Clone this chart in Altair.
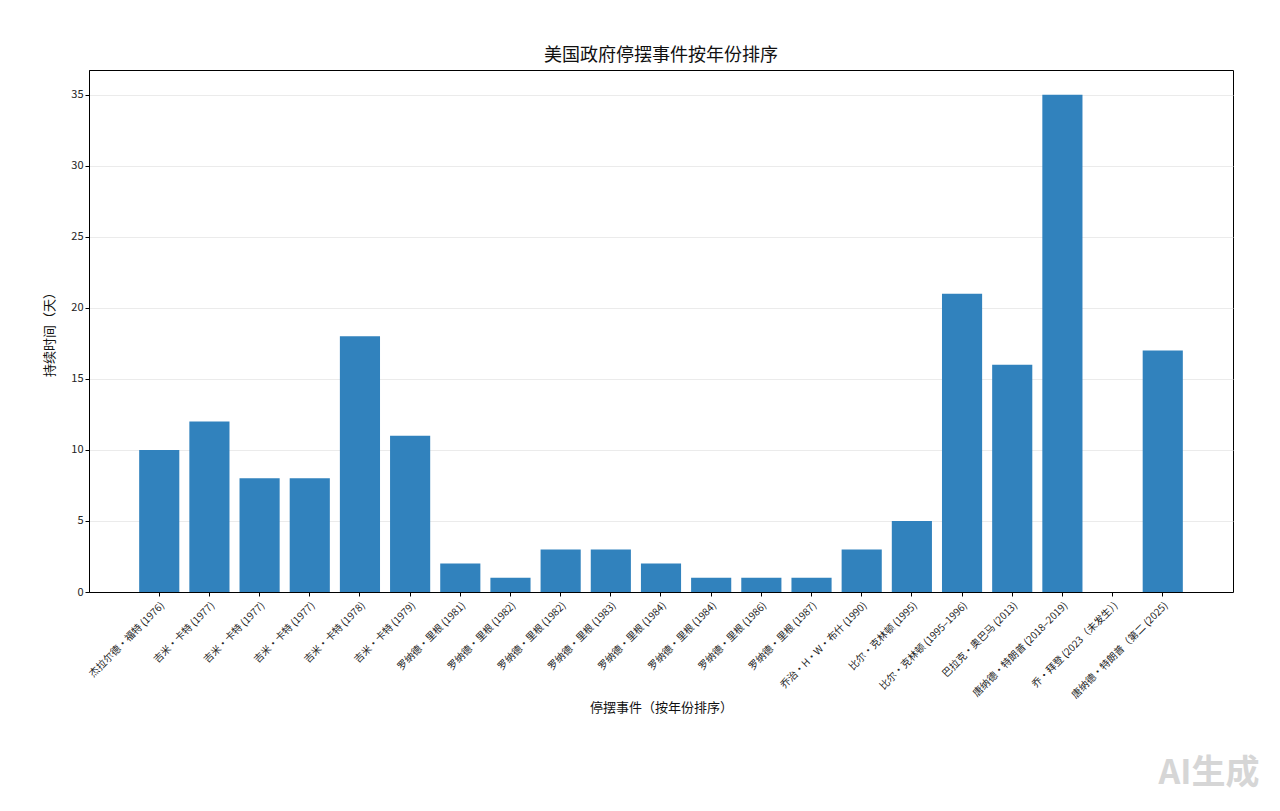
import json
import altair as alt
import pandas as pd

labels = [
    "杰拉尔德·福特 (1976)",
    "吉米·卡特 (1977)",
    "吉米·卡特 (1977)",
    "吉米·卡特 (1977)",
    "吉米·卡特 (1978)",
    "吉米·卡特 (1979)",
    "罗纳德·里根 (1981)",
    "罗纳德·里根 (1982)",
    "罗纳德·里根 (1982)",
    "罗纳德·里根 (1983)",
    "罗纳德·里根 (1984)",
    "罗纳德·里根 (1984)",
    "罗纳德·里根 (1986)",
    "罗纳德·里根 (1987)",
    "乔治·H·W·布什 (1990)",
    "比尔·克林顿 (1995)",
    "比尔·克林顿 (1995–1996)",
    "巴拉克·奥巴马 (2013)",
    "唐纳德·特朗普 (2018–2019)",
    "乔·拜登 (2023（未发生）)",
    "唐纳德·特朗普（第二 (2025)",
]
days = [10, 12, 8, 8, 18, 11, 2, 1, 3, 3, 2, 1, 1, 1, 3, 5, 21, 16, 35, 0, 17]

df = pd.DataFrame({"idx": list(range(len(labels))), "label": labels, "days": days})

FONT = "Noto Sans CJK SC"
label_expr = json.dumps(labels, ensure_ascii=False) + "[datum.value]"

bars = alt.Chart(df).mark_bar(color="#3182bd").encode(
    x=alt.X(
        "idx:O",
        sort=None,
        scale=alt.Scale(paddingInner=0.2, paddingOuter=1.0),
        axis=alt.Axis(
            title="停摆事件（按年份排序）",
            labelExpr=label_expr,
            labelAngle=-45,
            labelAlign="right",
            labelBaseline="top",
            labelFontSize=10,
            labelColor="#222222",
            labelPadding=4,
            titleFontSize=13,
            titleFontWeight="normal",
            titlePadding=2,
            titleColor="#111111",
            tickColor="black",
            tickSize=4,
            domainColor="black",
            grid=False,
        ),
    ),
    y=alt.Y(
        "days:Q",
        scale=alt.Scale(domain=[0, 36.75], nice=False),
        axis=alt.Axis(
            title="持续时间（天）",
            values=[0, 5, 10, 15, 20, 25, 30, 35],
            labelFontSize=11,
            labelColor="#222222",
            titleFontSize=13,
            titleFontWeight="normal",
            titleColor="#111111",
            titlePadding=14,
            tickColor="black",
            tickSize=4,
            domainColor="black",
            grid=True,
            gridColor="#e6e6e6",
            gridWidth=0.8,
        ),
    ),
)

mark_df = pd.DataFrame({"t": ["AI生成"]})
watermark = alt.Chart(mark_df).mark_text(
    font=FONT, fontSize=34, fontWeight="bold", color="#d6d6d6",
    align="center", baseline="middle", clip=False,
).encode(text="t:N", x=alt.value(1120), y=alt.value(704))

chart = alt.layer(bars, watermark).properties(
    width=1144,
    height=522,
    title=alt.TitleParams("美国政府停摆事件按年份排序", fontSize=18, fontWeight="normal",
                          color="#111111", offset=5, font=FONT),
    autosize=alt.AutoSizeParams(type="none"),
    padding={"left": 81, "top": 62, "right": 36, "bottom": 210},
).configure(font=FONT).configure_view(
    stroke="black", strokeWidth=1
)

chart.save("out.html", embed_options={"renderer": "svg", "actions": False})
